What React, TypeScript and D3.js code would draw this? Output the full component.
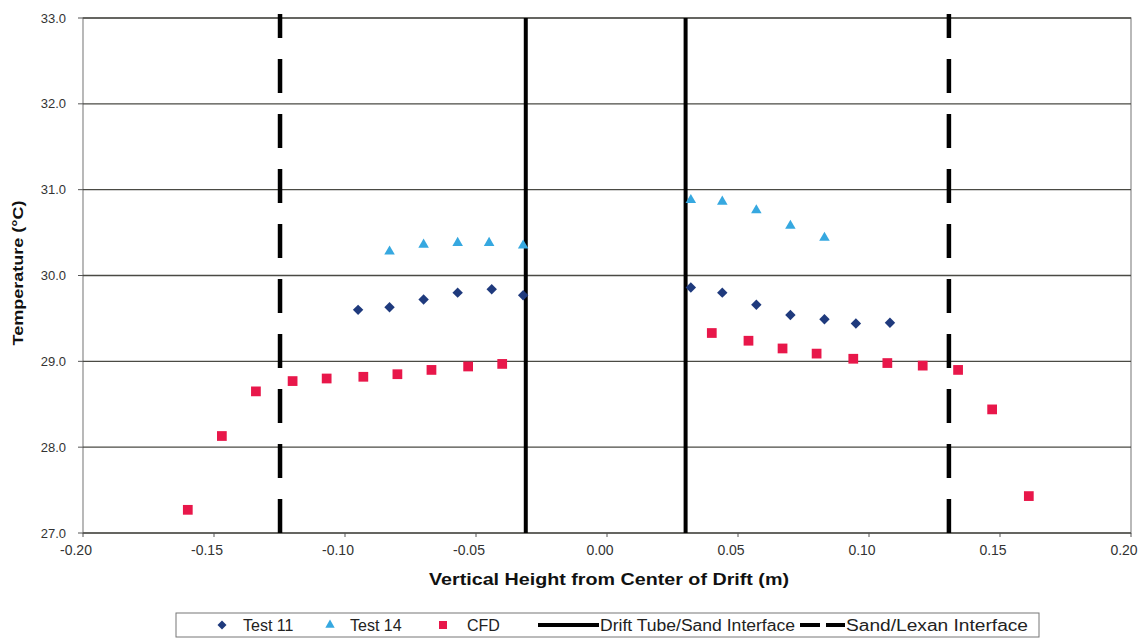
import React from "react";
import * as d3 from "d3";

// Measured temperature profiles across the drift (x in m, temperature in °C)
const test11X = [-0.095, -0.083, -0.070, -0.057, -0.044, -0.032, 0.032, 0.044, 0.057, 0.070, 0.083, 0.095, 0.108];
const test11T = [29.60, 29.63, 29.72, 29.80, 29.84, 29.77, 29.86, 29.80, 29.66, 29.54, 29.49, 29.44, 29.45];

const test14X = [-0.083, -0.070, -0.057, -0.045, -0.032, 0.032, 0.044, 0.057, 0.070, 0.083];
const test14T = [30.28, 30.36, 30.38, 30.38, 30.35, 30.88, 30.86, 30.76, 30.58, 30.44];

const cfdX = [-0.160, -0.147, -0.134, -0.120, -0.107, -0.093, -0.080, -0.067, -0.053, -0.040,
  0.040, 0.054, 0.067, 0.080, 0.094, 0.107, 0.1205, 0.134, 0.147, 0.161];
const cfdT = [27.27, 28.13, 28.65, 28.77, 28.80, 28.82, 28.85, 28.90, 28.94, 28.97,
  29.33, 29.24, 29.15, 29.09, 29.03, 28.98, 28.95, 28.90, 28.44, 27.43];

// Interface positions (m)
const driftTubeSand = [-0.031, 0.030];
const sandLexan = [-0.1248, 0.1305];

const xTicks = [-0.2, -0.15, -0.1, -0.05, 0, 0.05, 0.1, 0.15, 0.2];
const yTicks = [27, 28, 29, 30, 31, 32, 33];

const COLORS = { test11: "#1f3a7d", test14: "#36a8e0", cfd: "#e8174a" };

const W = 1142;
const H = 639;
const plot = { left: 83, right: 1131, top: 18, bottom: 533 };

// square turned 45 degrees, half-diagonal r
const diamondPath = (r: number) => `M0,${-r}L${r},0L0,${r}L${-r},0Z`;

export default function App() {
  const x = d3.scaleLinear().domain([-0.2, 0.2]).range([plot.left, plot.right]);
  const y = d3.scaleLinear().domain([27, 33]).range([plot.bottom, plot.top]);

  const diamond = diamondPath(5.2);
  const triangle = d3.symbol().type(d3.symbolTriangle).size(48)();
  const square = d3.symbol().type(d3.symbolSquare).size(95)();

  const font = "Arial, 'Liberation Sans', sans-serif";

  return (
    <svg width={W} height={H} style={{ position: "absolute", left: 0, top: 0, background: "#fff" }} fontFamily={font}>
      <rect x={0} y={0} width={W} height={H} fill="#fff" />

      {/* plot frame */}
      <rect x={plot.left} y={plot.top} width={plot.right - plot.left} height={plot.bottom - plot.top}
        fill="none" stroke="#8a8a8a" strokeWidth={1.2} />

      {/* horizontal gridlines */}
      {yTicks.map((t) => (
        <line key={"g" + t} x1={plot.left} x2={plot.right} y1={y(t)} y2={y(t)} stroke="#4a4a44" strokeWidth={1.3} />
      ))}

      {/* y axis ticks and labels */}
      {yTicks.map((t) => (
        <g key={"y" + t}>
          <line x1={plot.left - 5} x2={plot.left} y1={y(t)} y2={y(t)} stroke="#555" strokeWidth={1} />
          <text x={plot.left - 17} y={y(t) + 4.5} textAnchor="end" fontSize={13} fill="#333">
            {t.toFixed(1)}
          </text>
        </g>
      ))}

      {/* x axis ticks and labels */}
      {xTicks.map((t) => (
        <g key={"x" + t}>
          <line x1={x(t)} x2={x(t)} y1={plot.bottom} y2={plot.bottom + 4} stroke="#555" strokeWidth={1} />
          <text x={x(t) - 7} y={plot.bottom + 22} textAnchor="middle" fontSize={14} fill="#333">
            {t.toFixed(2)}
          </text>
        </g>
      ))}

      {/* interface lines */}
      {driftTubeSand.map((v) => (
        <line key={"s" + v} x1={x(v)} x2={x(v)} y1={y(27)} y2={y(33)} stroke="#000" strokeWidth={4} />
      ))}
      {sandLexan.map((v) => (
        <line key={"d" + v} x1={x(v)} x2={x(v)} y1={y(27)} y2={y(33) - 4} stroke="#000" strokeWidth={4.5}
          strokeDasharray="34 21" />
      ))}

      {/* series markers */}
      {cfdX.map((v, i) => (
        <path key={"c" + i} d={square} transform={`translate(${x(v)},${y(cfdT[i])})`} fill={COLORS.cfd} />
      ))}
      {test11X.map((v, i) => (
        <path key={"a" + i} d={diamond} transform={`translate(${x(v)},${y(test11T[i])})`} fill={COLORS.test11} />
      ))}
      {test14X.map((v, i) => (
        <path key={"b" + i} d={triangle} transform={`translate(${x(v)},${y(test14T[i])})`} fill={COLORS.test14} />
      ))}

      {/* axis titles */}
      <text x={609} y={585} textAnchor="middle" fontSize={17} fontWeight="bold" fill="#111"
        textLength={360} lengthAdjust="spacingAndGlyphs">
        Vertical Height from Center of Drift (m)
      </text>
      <text transform="translate(23,273) rotate(-90)" textAnchor="middle" fontSize={15} fontWeight="bold" fill="#111"
        textLength={145} lengthAdjust="spacingAndGlyphs">
        Temperature (°C)
      </text>

      {/* legend */}
      <g>
        <rect x={176} y={613} width={863} height={24} fill="#fff" stroke="#777" strokeWidth={1} />
        <path d={diamondPath(4.5)} transform="translate(222,625)" fill={COLORS.test11} />
        <text x={243} y={631} fontSize={16} fill="#222">Test 11</text>
        <path d={d3.symbol().type(d3.symbolTriangle).size(38)()} transform="translate(330,625)" fill={COLORS.test14} />
        <text x={350} y={631} fontSize={16} fill="#222">Test 14</text>
        <path d={d3.symbol().type(d3.symbolSquare).size(64)()} transform="translate(443,625)" fill={COLORS.cfd} />
        <text x={467} y={631} fontSize={16} fill="#222">CFD</text>
        <line x1={538} x2={599} y1={625} y2={625} stroke="#000" strokeWidth={4} />
        <text x={600} y={631} fontSize={16} fill="#222" textLength={195} lengthAdjust="spacingAndGlyphs">
          Drift Tube/Sand Interface
        </text>
        <line x1={800} x2={845} y1={625} y2={625} stroke="#000" strokeWidth={4} strokeDasharray="20 6" />
        <text x={846} y={631} fontSize={16} fill="#222" textLength={182} lengthAdjust="spacingAndGlyphs">
          Sand/Lexan Interface
        </text>
      </g>
    </svg>
  );
}
